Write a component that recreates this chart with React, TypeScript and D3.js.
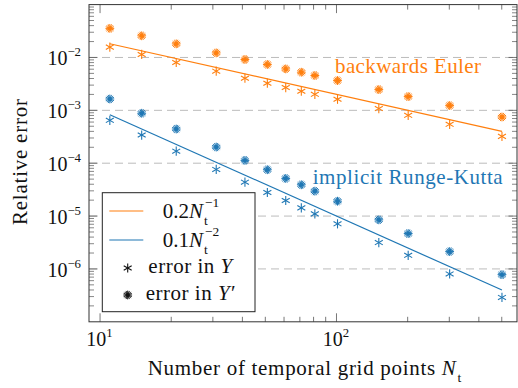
import { useEffect, useRef } from "react";
import * as d3 from "d3";

// number of temporal grid points
const nPoints = [11, 15, 21, 31, 41, 51, 61, 71, 81, 101, 151, 201, 301, 501];

// backwards Euler errors
const eulerErrY = [0.0157, 0.0114, 0.00804, 0.0055, 0.00405, 0.00326, 0.0027, 0.0023, 0.00201, 0.00162, 0.00108, 0.000805, 0.000544, 0.000322];
const eulerErrYp = [0.0355, 0.0257, 0.0181, 0.0122, 0.00916, 0.00737, 0.00608, 0.00526, 0.00456, 0.00366, 0.00247, 0.00182, 0.00123, 0.000748];

// implicit Runge-Kutta errors
const rkErrY = [0.000647, 0.000341, 0.000169, 7.62e-5, 4.38e-5, 2.79e-5, 1.97e-5, 1.43e-5, 1.1e-5, 7.13e-6, 3.15e-6, 1.81e-6, 8.04e-7, 2.89e-7];
const rkErrYp = [0.00164, 0.00088, 0.000443, 0.000202, 0.000113, 7.53e-5, 5.15e-5, 3.91e-5, 2.96e-5, 1.91e-5, 8.49e-6, 4.67e-6, 2.13e-6, 7.8e-7];

const yTickExps = [-2, -3, -4, -5, -6];
const xTickExps = [1, 2];

const ORANGE = "#ff7f0e";
const BLUE = "#1f77b4";
const FONT = "Liberation Serif";

type Piece = { t: string; italic?: boolean; sub?: string; sup?: string };
type G = d3.Selection<SVGGElement, unknown, null, undefined>;

// text built from pieces, sub/superscripts stacked after a piece
function mathText(
  parent: G, x: number, y: number, pieces: Piece[],
  size: number, anchor: "start" | "middle" | "end", fill: string, spacing = 0
) {
  const grp = parent.append("g");
  let cx = 0;
  const small = size * 0.64;
  pieces.forEach(p => {
    if (p.t) {
      const t = grp.append("text")
        .attr("x", cx).attr("y", 0)
        .attr("font-family", FONT).attr("font-size", size)
        .attr("font-style", p.italic ? "italic" : "normal")
        .attr("letter-spacing", spacing)
        .attr("fill", fill)
        .text(p.t.replace(/ /g, "\u00a0"));
      cx += (t.node() as SVGTextElement).getComputedTextLength();
      if (p.italic) cx += 1;
    }
    let w = 0;
    if (p.sub) {
      const s = grp.append("text")
        .attr("x", cx).attr("y", size * 0.34)
        .attr("font-family", FONT).attr("font-size", small)
        .attr("fill", fill).text(p.sub);
      w = Math.max(w, (s.node() as SVGTextElement).getComputedTextLength());
    }
    if (p.sup) {
      const s = grp.append("text")
        .attr("x", cx + (p.sub ? 1 : 0)).attr("y", -size * (p.sub ? 0.5 : 0.46))
        .attr("font-family", FONT).attr("font-size", small)
        .attr("fill", fill).text(p.sup);
      w = Math.max(w, (s.node() as SVGTextElement).getComputedTextLength() + 1);
    }
    cx += w;
  });
  const off = anchor === "start" ? 0 : anchor === "middle" ? -cx / 2 : -cx;
  grp.attr("transform", `translate(${x + off},${y})`);
}

function drawAsterisk(g: G, cx: number, cy: number, color: string) {
  const r = 4.6;
  [90, 30, 150].forEach(a => {
    const rad = (a * Math.PI) / 180;
    g.append("line")
      .attr("x1", cx - r * Math.cos(rad)).attr("y1", cy - r * Math.sin(rad))
      .attr("x2", cx + r * Math.cos(rad)).attr("y2", cy + r * Math.sin(rad))
      .attr("stroke", color).attr("stroke-width", 1.1);
  });
}

function drawBurst(g: G, cx: number, cy: number, color: string) {
  const r = 4.4;
  d3.range(0, 180, 22.5).forEach(a => {
    const rad = (a * Math.PI) / 180;
    g.append("line")
      .attr("x1", cx - r * Math.cos(rad)).attr("y1", cy - r * Math.sin(rad))
      .attr("x2", cx + r * Math.cos(rad)).attr("y2", cy + r * Math.sin(rad))
      .attr("stroke", color).attr("stroke-width", 1);
  });
  g.append("circle").attr("cx", cx).attr("cy", cy).attr("r", 2).attr("fill", color);
}

export default function App() {
  const svgRef = useRef<SVGSVGElement>(null);

  useEffect(() => {
    const svg = d3.select(svgRef.current);
    svg.selectAll("*").remove();
    const root = svg.append("g") as G;

    const left = 89, right = 517, top = 4.6, bottom = 321.8;
    const x = d3.scaleLog().domain([8.98, 580]).range([left, right]);
    const y = d3.scaleLog().domain([1e-7, 1e-1]).range([bottom, top]);

    // grid
    yTickExps.forEach(e => {
      root.append("line")
        .attr("x1", left).attr("x2", right)
        .attr("y1", y(10 ** e)).attr("y2", y(10 ** e))
        .attr("stroke", "#bcbcbc").attr("stroke-width", 1)
        .attr("stroke-dasharray", "8,5");
    });

    // ticks
    const tickCol = "#555";
    const xMinor = [20, 30, 40, 50, 60, 70, 80, 90, 200, 300, 400, 500];
    xMinor.forEach(v => {
      [[bottom, bottom - 5], [top, top + 5]].forEach(([a, b]) =>
        root.append("line").attr("x1", x(v)).attr("x2", x(v)).attr("y1", a).attr("y2", b)
          .attr("stroke", tickCol).attr("stroke-width", 0.8));
    });
    xTickExps.forEach(e => {
      [[bottom, bottom - 8.5], [top, top + 8.5]].forEach(([a, b]) =>
        root.append("line").attr("x1", x(10 ** e)).attr("x2", x(10 ** e)).attr("y1", a).attr("y2", b)
          .attr("stroke", tickCol).attr("stroke-width", 0.8));
    });
    for (let e = -7; e < -1; e++) {
      for (let m = 2; m <= 9; m++) {
        const v = m * 10 ** e;
        [[left, left + 5], [right, right - 5]].forEach(([a, b]) =>
          root.append("line").attr("x1", a).attr("x2", b).attr("y1", y(v)).attr("y2", y(v))
            .attr("stroke", tickCol).attr("stroke-width", 0.7));
      }
    }
    yTickExps.forEach(e => {
      [[left, left + 8.5], [right, right - 8.5]].forEach(([a, b]) =>
        root.append("line").attr("x1", a).attr("x2", b).attr("y1", y(10 ** e)).attr("y2", y(10 ** e))
          .attr("stroke", tickCol).attr("stroke-width", 0.8));
    });

    // reference lines
    const line = d3.line<[number, number]>().x(d => x(d[0])).y(d => y(d[1]));
    const nMin = nPoints[0], nMax = nPoints[nPoints.length - 1];
    root.append("path")
      .attr("d", line([[nMin, 0.2 / nMin], [nMax, 0.2 / nMax]]))
      .attr("stroke", ORANGE).attr("stroke-width", 1.2).attr("fill", "none");
    root.append("path")
      .attr("d", line([[nMin, 0.1 / nMin ** 2], [nMax, 0.1 / nMax ** 2]]))
      .attr("stroke", BLUE).attr("stroke-width", 1.2).attr("fill", "none");

    // markers
    nPoints.forEach((n, i) => {
      drawBurst(root, x(n), y(eulerErrYp[i]), ORANGE);
      drawAsterisk(root, x(n), y(eulerErrY[i]), ORANGE);
      drawBurst(root, x(n), y(rkErrYp[i]), BLUE);
      drawAsterisk(root, x(n), y(rkErrY[i]), BLUE);
    });

    // annotations
    root.append("text")
      .attr("x", 335).attr("y", 72.7)
      .attr("font-family", FONT).attr("font-size", 21)
      .attr("textLength", 146).attr("lengthAdjust", "spacing")
      .attr("fill", ORANGE).text("backwards Euler");
    root.append("text")
      .attr("x", 312.7).attr("y", 184)
      .attr("font-family", FONT).attr("font-size", 21)
      .attr("textLength", 190).attr("lengthAdjust", "spacing")
      .attr("fill", BLUE).text("implicit Runge-Kutta");

    // frame
    root.append("rect")
      .attr("x", left).attr("y", top)
      .attr("width", right - left).attr("height", bottom - top)
      .attr("fill", "none").attr("stroke", "#333").attr("stroke-width", 1);

    // tick labels
    xTickExps.forEach(e => {
      mathText(root, x(10 ** e), 346, [{ t: "10", sup: String(e) }], 20, "middle", "#111");
    });
    yTickExps.forEach(e => {
      mathText(root, 82, y(10 ** e) + 8, [{ t: "10", sup: "\u2212" + Math.abs(e) }], 20, "end", "#111");
    });

    // axis titles
    mathText(root, 304.5, 375, [
      { t: "Number of temporal grid points " },
      { t: "N", italic: true, sub: "t" },
    ], 21, "middle", "#111", 0.7);
    root.append("text")
      .attr("transform", "translate(27,162) rotate(-90)")
      .attr("text-anchor", "middle")
      .attr("font-family", FONT).attr("font-size", 21)
      .attr("textLength", 126).attr("lengthAdjust", "spacing")
      .attr("fill", "#111").text("Relative error");

    // legend
    const lg = root.append("g") as G;
    lg.append("rect")
      .attr("x", 102.3).attr("y", 192.7)
      .attr("width", 152.7).attr("height", 119)
      .attr("fill", "white").attr("stroke", "#222").attr("stroke-width", 1);
    const textCx = 191;
    lg.append("line").attr("x1", 109.3).attr("x2", 143.3).attr("y1", 211).attr("y2", 211)
      .attr("stroke", ORANGE).attr("stroke-width", 1.2);
    mathText(lg, textCx, 217.5, [{ t: "0.2" }, { t: "N", italic: true, sub: "t", sup: "\u22121" }], 21, "middle", "#111");
    lg.append("line").attr("x1", 109.3).attr("x2", 143.3).attr("y1", 240).attr("y2", 240)
      .attr("stroke", BLUE).attr("stroke-width", 1.2);
    mathText(lg, textCx, 246.5, [{ t: "0.1" }, { t: "N", italic: true, sub: "t", sup: "\u22122" }], 21, "middle", "#111");
    drawAsterisk(lg, 127.7, 268, "#111");
    mathText(lg, textCx, 273, [{ t: "error in " }, { t: "Y", italic: true }], 21, "middle", "#111", 0.5);
    drawBurst(lg, 127.7, 295, "#111");
    mathText(lg, textCx, 300, [{ t: "error in " }, { t: "Y", italic: true }, { t: "\u2032" }], 21, "middle", "#111", 0.5);
  }, []);

  return (
    <svg ref={svgRef} width={518} height={388}
      style={{ position: "absolute", left: 0, top: 0, background: "white" }} />
  );
}
